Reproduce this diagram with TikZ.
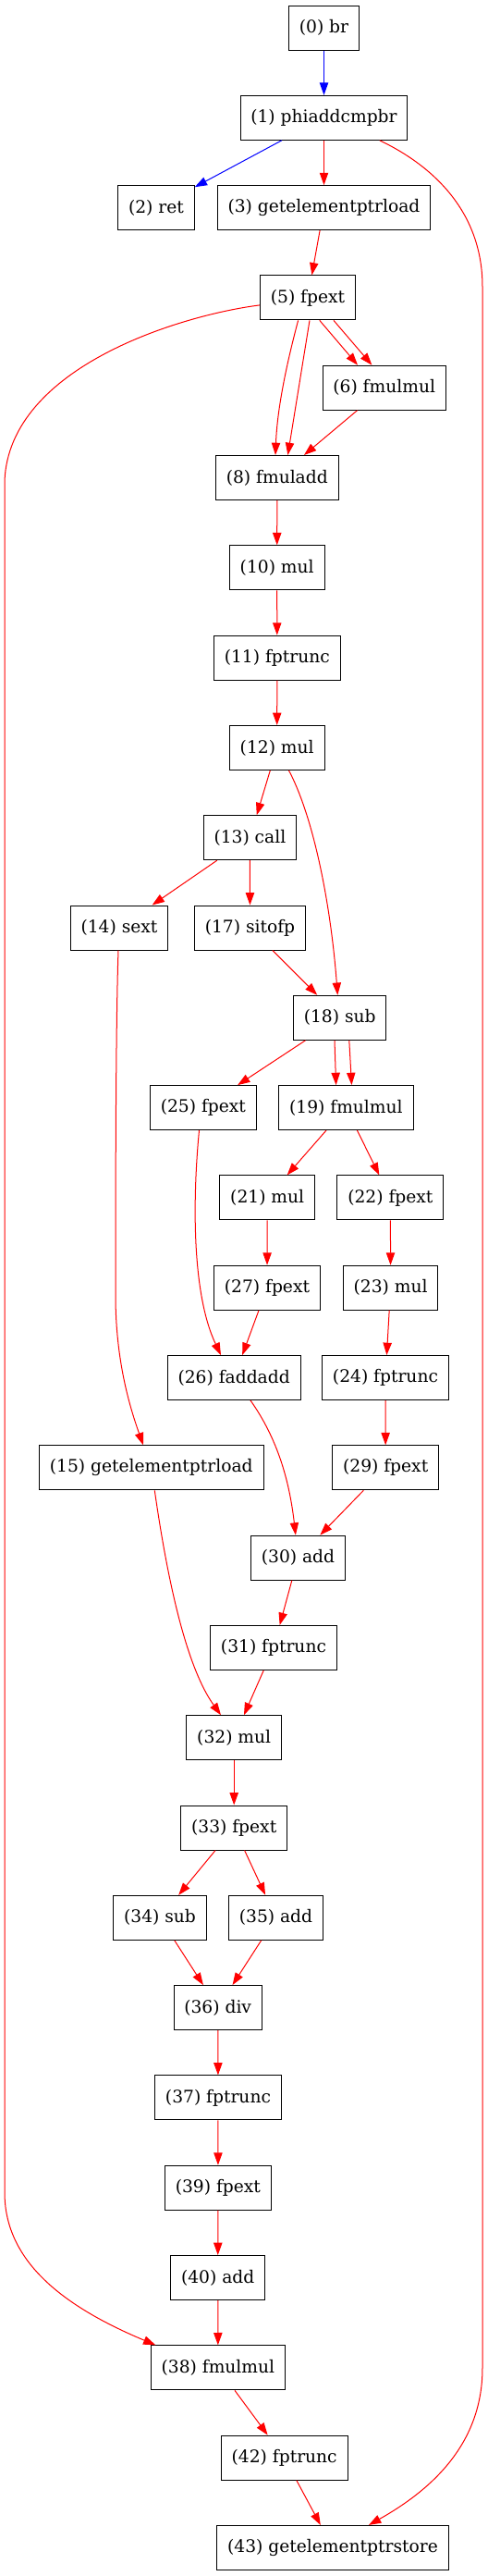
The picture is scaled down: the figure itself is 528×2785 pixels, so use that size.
\documentclass[tikz,border=0pt]{standalone}
\usepackage{fontspec}
\setmainfont{DejaVu Serif}
\usetikzlibrary{arrows.meta,calc}

\begin{document}
\begin{tikzpicture}[x=0.75pt,y=0.75pt,yscale=-1,
    op/.style={draw=black,line width=0.75pt,minimum height=36pt,minimum width=54pt,inner xsep=8.5pt,font=\fontsize{14pt}{17pt}\selectfont},
    dep/.style={draw=red,line width=0.75pt,-{Triangle[length=10pt,width=7pt]}},
    ctl/.style={draw=blue,line width=0.75pt,-{Triangle[length=10pt,width=7pt]}}]
\useasboundingbox (0,0) rectangle (528,2785);

% Text Node
\node[op] (n0) at (350.5,30) {(0) br};
\node[op] (n1) at (350.5,127.3) {(1) phiaddcmpbr};
\node[op] (n2) at (169,224.6) {(2) ret};
\node[op] (n3) at (350.5,224.6) {(3) getelementptrload};
\node[op] (n5) at (333,321.9) {(5) fpext};
\node[op] (n6) at (415.7,419.2) {(6) fmulmul};
\node[op] (n8) at (299.8,516.5) {(8) fmuladd};
\node[op] (n10) at (299.7,613.8) {(10) mul};
\node[op] (n11) at (299.8,711.1) {(11) fptrunc};
\node[op] (n12) at (299.7,808.4) {(12) mul};
\node[op] (n13) at (270.4,905.7) {(13) call};
\node[op] (n14) at (129,1003) {(14) sext};
\node[op] (n17) at (270.5,1003) {(17) sitofp};
\node[op] (n18) at (367.7,1100.3) {(18) sub};
\node[op] (n25) at (219.9,1197.6) {(25) fpext};
\node[op] (n19) at (374.4,1197.6) {(19) fmulmul};
\node[op] (n21) at (289.2,1294.9) {(21) mul};
\node[op] (n22) at (422.4,1294.9) {(22) fpext};
\node[op] (n27) at (289,1392.2) {(27) fpext};
\node[op] (n23) at (422.6,1392.2) {(23) mul};
\node[op] (n26) at (253.2,1489.5) {(26) faddadd};
\node[op] (n24) at (417,1489.5) {(24) fptrunc};
\node[op] (n15) at (163.8,1586.8) {(15) getelementptrload};
\node[op] (n29) at (417.2,1586.8) {(29) fpext};
\node[op] (n30) at (322.5,1684.1) {(30) add};
\node[op] (n31) at (296,1781.4) {(31) fptrunc};
\node[op] (n32) at (253.2,1878.7) {(32) mul};
\node[op] (n33) at (253.2,1976) {(33) fpext};
\node[op] (n34) at (173,2073.3) {(34) sub};
\node[op] (n35) at (298.5,2073.3) {(35) add};
\node[op] (n36) at (235.7,2170.6) {(36) div};
\node[op] (n37) at (236,2267.9) {(37) fptrunc};
\node[op] (n39) at (235.9,2365.2) {(39) fpext};
\node[op] (n40) at (235.7,2462.5) {(40) add};
\node[op] (n38) at (235.9,2559.8) {(38) fmulmul};
\node[op] (n42) at (307.7,2657.1) {(42) fptrunc};
\node[op] (n43) at (360,2754.4) {(43) getelementptrstore};

%Straight Lines
\draw[ctl] (n0) -- (n1);
\draw[ctl] (n1) -- (n2);
\draw[dep] (n1) -- (n3);
\draw[dep] (n3) -- (n5);
\draw[dep] ($(n5.south)+(12.8,0)$) -- ($(n6.north)+(-28.7,0)$);
\draw[dep] ($(n5.south)+(28,0)$) -- ($(n6.north)+(-13.3,0)$);
\draw[dep] ($(n5.south)+(2,0)$) -- ($(n8.north)+(11.6,0)$);
\draw[dep] (n6) -- (n8);
\draw[dep] (n8) -- (n10);
\draw[dep] (n10) -- (n11);
\draw[dep] (n11) -- (n12);
\draw[dep] (n12) -- (n13);
\draw[dep] (n13) -- (n14);
\draw[dep] (n13) -- (n17);
\draw[dep] (n17) -- (n18);
\draw[dep] (n18) -- (n25);
\draw[dep] ($(n18.south)+(-5.7,0)$) -- ($(n19.north)+(-10.8,0)$);
\draw[dep] ($(n18.south)+(10.1,0)$) -- ($(n19.north)+(6.1,0)$);
\draw[dep] (n19) -- (n21);
\draw[dep] (n19) -- (n22);
\draw[dep] (n21) -- (n27);
\draw[dep] (n22) -- (n23);
\draw[dep] (n27) -- (n26);
\draw[dep] (n23) -- (n24);
\draw[dep] (n24) -- (n29);
\draw[dep] (n29) -- (n30);
\draw[dep] (n30) -- (n31);
\draw[dep] (n31) -- (n32);
\draw[dep] (n32) -- (n33);
\draw[dep] (n33) -- (n34);
\draw[dep] (n33) -- (n35);
\draw[dep] (n34) -- (n36);
\draw[dep] (n35) -- (n36);
\draw[dep] (n36) -- (n37);
\draw[dep] (n37) -- (n39);
\draw[dep] (n39) -- (n40);
\draw[dep] (n40) -- (n38);
\draw[dep] (n38) -- (n42);
\draw[dep] (n42) -- (n43);

%Curve Lines
\draw[dep] ($(n5.south)+(-10.4,0)$) .. controls (311,390) and (300,440) .. ($(n8.north)+(-1.8,0)$);
\draw[dep] ($(n1.south)+(60.3,0)$) .. controls (470,180) and (522,230) .. (522,310) -- (522,2560) .. controls (522,2640) and (470,2690) .. ($(n43.north)+(39,0)$);
\draw[dep] ($(n5.west)+(0,8)$) .. controls (200,340) and (10,395) .. (5,520) -- (5,2370) .. controls (5,2440) and (60,2490) .. ($(n38.north)+(-67.5,0)$);
\draw[dep] ($(n12.south)+(12.8,0)$) .. controls (340,885) and (358,980) .. ($(n18.north)+(-2.4,0)$);
\draw[dep] ($(n14.south)+(-1,0)$) .. controls (125.5,1100) and (125,1250) .. (125,1400) .. controls (125,1470) and (140,1520) .. ($(n15.north)+(-8.8,0)$);
\draw[dep] ($(n25.south)+(-4.4,0)$) .. controls (208,1300) and (208,1400) .. ($(n26.north)+(-14.2,0)$);
\draw[dep] ($(n26.south)+(17.8,0)$) .. controls (300,1555) and (313,1600) .. ($(n30.north)+(-2.6,0)$);
\draw[dep] ($(n15.south)+(3.5,0)$) .. controls (180,1700) and (200,1800) .. ($(n32.north)+(-14.2,0)$);

\end{tikzpicture}
\end{document}
